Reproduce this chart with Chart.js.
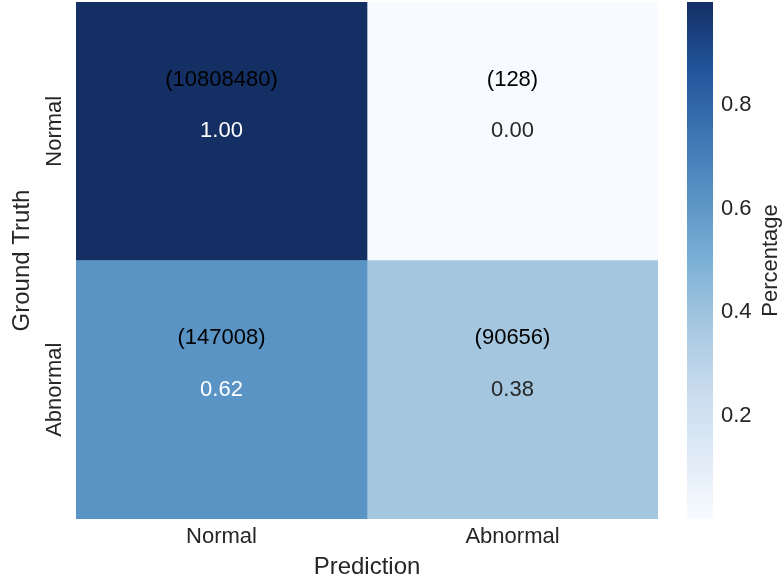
<!DOCTYPE html>
<html>
<head>
<meta charset="utf-8">
<title>Confusion matrix</title>
<script src="https://cdn.jsdelivr.net/npm/chart.js@4.4.1/dist/chart.umd.min.js"></script>
<style>
  html, body { margin: 0; padding: 0; background: #fff; }
  #chart { display: block; }
</style>
</head>
<body>
<canvas id="chart" width="784" height="584"></canvas>
<script>
// rows = ground truth, columns = prediction
const ROW_LABELS = ['Normal', 'Abnormal'];
const COL_LABELS = ['Normal', 'Abnormal'];
const COUNTS_NORMAL = [10808480, 128];
const COUNTS_ABNORMAL = [147008, 90656];
const COLORBAR_TICKS = [0.2, 0.4, 0.6, 0.8];

const COUNTS = [COUNTS_NORMAL, COUNTS_ABNORMAL];
// row-normalised share of each cell
const PERCENT = COUNTS.map(row => {
    const total = row.reduce((a, b) => a + b, 0);
    return row.map(v => v / total);
});
const VMIN = Math.min(...PERCENT.flat());
const VMAX = Math.max(...PERCENT.flat());

const TEXT_DARK = '#262626';
const FONT = '"Liberation Sans", Arial, sans-serif';

// Blues colormap, stops tuned to the reference
const CMAP = [
    [0.000, '#f7fbff'],
    [0.125, '#dfeaf6'],
    [0.250, '#c8dbee'],
    [0.375, '#a6c8e0'],
    [0.500, '#7bb0d6'],
    [0.625, '#5892c4'],
    [0.750, '#3a74b2'],
    [0.875, '#21539a'],
    [1.000, '#132f64']
];

function hexToRgb(hex) {
    const n = parseInt(hex.slice(1), 16);
    return [(n >> 16) & 255, (n >> 8) & 255, n & 255];
}

function cmapRgb(v) {
    const t = Math.min(1, Math.max(0, (v - VMIN) / (VMAX - VMIN)));
    for (let i = 1; i < CMAP.length; i++) {
        if (t <= CMAP[i][0]) {
            const [t0, c0] = CMAP[i - 1];
            const [t1, c1] = CMAP[i];
            const f = (t - t0) / (t1 - t0);
            const a = hexToRgb(c0), b = hexToRgb(c1);
            return a.map((ch, k) => Math.round(ch + (b[k] - ch) * f));
        }
    }
    return hexToRgb(CMAP[CMAP.length - 1][1]);
}

function rgbStr(rgb) {
    return 'rgb(' + rgb.join(',') + ')';
}

// same rule seaborn uses to pick annotation colour
function luminance(rgb) {
    const lin = rgb.map(c => {
        c = c / 255;
        return c <= 0.03928 ? c / 12.92 : Math.pow((c + 0.055) / 1.055, 2.4);
    });
    return 0.2126 * lin[0] + 0.7152 * lin[1] + 0.0722 * lin[2];
}

// vertical axes: keep label overhang from pushing the plot down
function noVerticalPadding(s) {
    s.paddingTop = 0;
    s.paddingBottom = 0;
}

const cellText = {
    id: 'cellText',
    afterDatasetsDraw(chart) {
        const { ctx, scales: { x, y } } = chart;
        ctx.save();
        ctx.font = '22px ' + FONT;
        ctx.textAlign = 'center';
        ctx.textBaseline = 'middle';
        ROW_LABELS.forEach((_, r) => {
            COL_LABELS.forEach((_, c) => {
                const px = x.getPixelForValue(c + 0.5);
                ctx.fillStyle = '#000';
                ctx.fillText('(' + COUNTS[r][c] + ')', px, y.getPixelForValue(r - 0.2));
                ctx.fillStyle = luminance(cmapRgb(PERCENT[r][c])) < 0.408 ? '#fff' : TEXT_DARK;
                ctx.fillText(PERCENT[r][c].toFixed(2), px, y.getPixelForValue(r));
            });
        });
        ctx.restore();
    }
};

const colorBar = {
    id: 'colorBar',
    afterDraw(chart) {
        const { ctx } = chart;
        const s = chart.scales.yColor;
        const top = s.getPixelForValue(VMAX);
        const bottom = s.getPixelForValue(VMIN);
        const grad = ctx.createLinearGradient(0, bottom, 0, top);
        CMAP.forEach(([t, hex]) => grad.addColorStop(t, hex));
        ctx.save();
        ctx.fillStyle = grad;
        ctx.fillRect(s.left + 29, top, 26, bottom - top);
        ctx.translate(s.left + 113, (top + bottom) / 2);
        ctx.rotate(-Math.PI / 2);
        ctx.font = '22px ' + FONT;
        ctx.fillStyle = TEXT_DARK;
        ctx.textAlign = 'center';
        ctx.textBaseline = 'middle';
        ctx.fillText('Percentage', 0, 0);
        ctx.restore();
    }
};

const datasets = COL_LABELS.map((col, c) => ({
    label: col,
    data: ROW_LABELS.map(() => 1),
    backgroundColor: ROW_LABELS.map((_, r) => rgbStr(cmapRgb(PERCENT[r][c]))),
    borderWidth: 0,
    barPercentage: 1,
    categoryPercentage: 1
}));

Chart.defaults.font.family = FONT;
Chart.defaults.color = TEXT_DARK;

new Chart(document.getElementById('chart').getContext('2d'), {
    type: 'bar',
    data: { labels: ROW_LABELS, datasets: datasets },
    plugins: [cellText, colorBar],
    options: {
        indexAxis: 'y',
        responsive: false,
        animation: false,
        devicePixelRatio: 1,
        layout: { padding: { top: 2, left: 0, right: 0, bottom: 0 } },
        plugins: {
            legend: { display: false },
            tooltip: { enabled: false }
        },
        scales: {
            x: {
                type: 'linear',
                min: 0,
                max: COL_LABELS.length,
                stacked: true,
                afterBuildTicks: s => { s.ticks = COL_LABELS.map((_, i) => ({ value: i + 0.5 })); },
                afterFit: s => { s.height = 65; s.paddingLeft = 0; s.paddingRight = 0; },
                ticks: {
                    callback: (v, i) => COL_LABELS[i],
                    font: { size: 22 },
                    color: TEXT_DARK,
                    padding: 5,
                    maxRotation: 0,
                    autoSkip: false
                },
                grid: { display: false, drawTicks: false },
                border: { display: false },
                title: {
                    display: true,
                    text: 'Prediction',
                    font: { size: 24 },
                    color: TEXT_DARK,
                    padding: { top: 0, bottom: 2 }
                }
            },
            y: {
                type: 'category',
                stacked: true,
                afterFit: s => { s.width = 76; noVerticalPadding(s); },
                ticks: {
                    minRotation: 90,
                    maxRotation: 90,
                    crossAlign: 'center',
                    padding: -26,
                    font: { size: 22 },
                    color: TEXT_DARK
                },
                grid: { display: false, drawTicks: false },
                border: { display: false },
                title: {
                    display: true,
                    text: 'Ground Truth',
                    font: { size: 24 },
                    color: TEXT_DARK,
                    padding: { top: 8, bottom: 0 }
                }
            },
            yColor: {
                type: 'linear',
                position: 'right',
                display: true,
                offset: false,
                min: VMIN,
                max: VMAX,
                afterBuildTicks: s => { s.ticks = COLORBAR_TICKS.map(v => ({ value: v })); },
                afterFit: s => { s.width = 126; noVerticalPadding(s); },
                ticks: {
                    callback: v => v.toFixed(1),
                    font: { size: 22 },
                    color: TEXT_DARK,
                    padding: 0
                },
                grid: { display: false, offset: false, drawTicks: true, tickLength: 63 },
                border: { display: false }
            }
        }
    }
});
</script>
</body>
</html>
